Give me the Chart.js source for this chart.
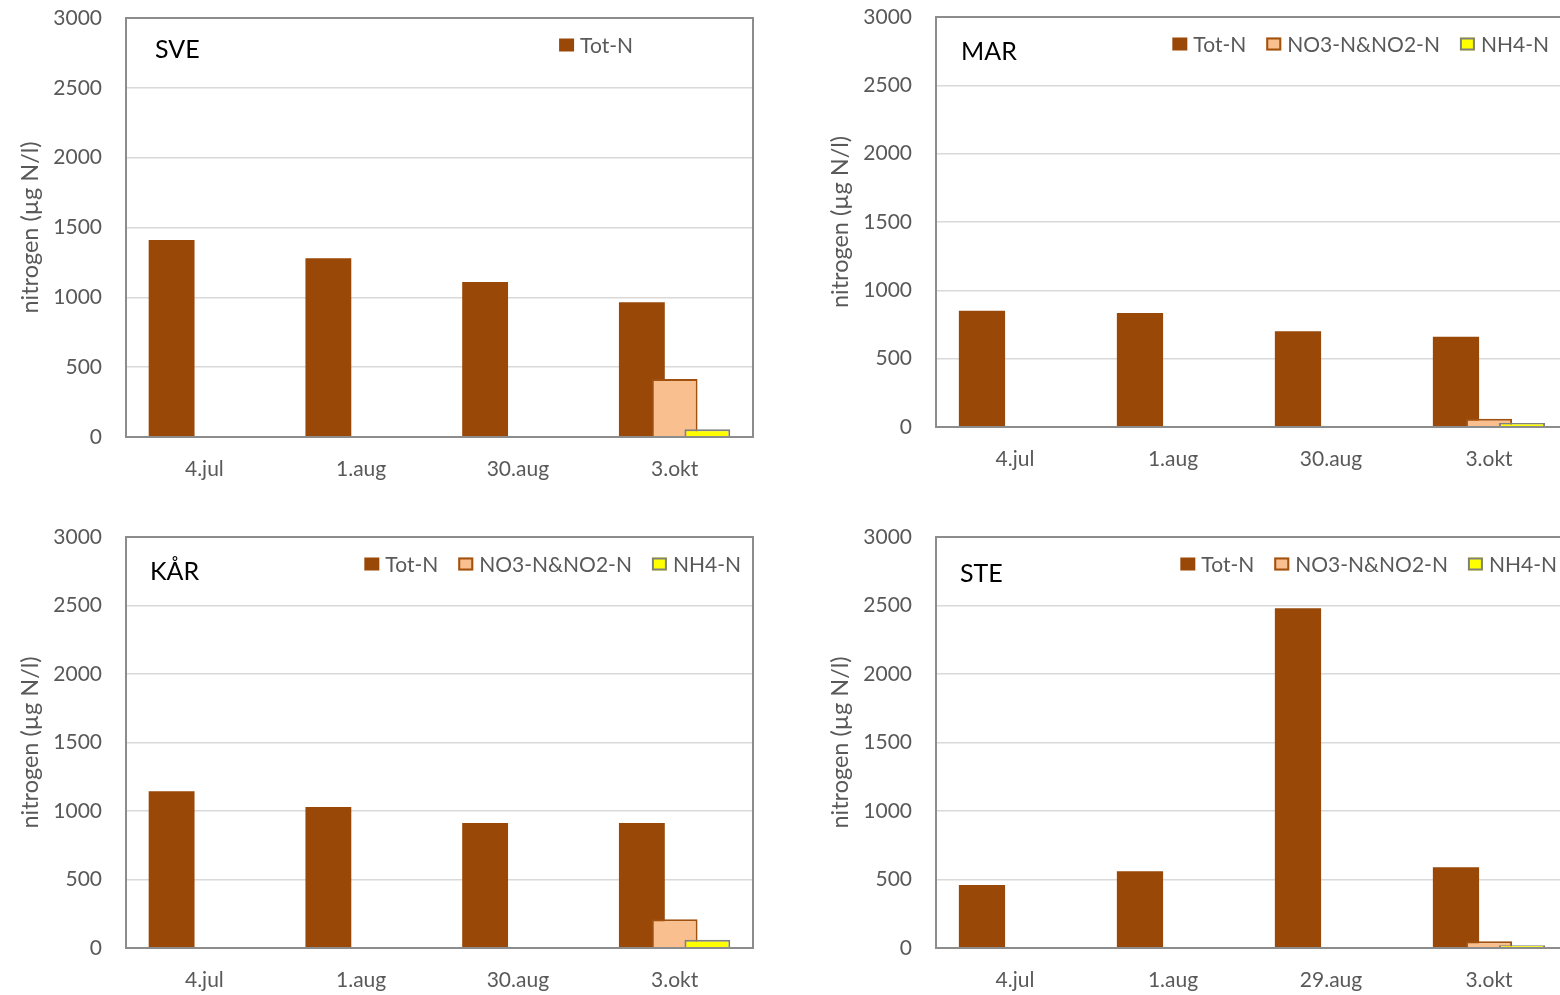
<!DOCTYPE html>
<html>
<head>
<meta charset="utf-8">
<script src="https://cdn.jsdelivr.net/npm/chart.js@4.4.1/dist/chart.umd.min.js"></script>
<style>
  html, body { margin: 0; padding: 0; background: #fff; overflow: hidden; width: 1560px; height: 995px; }
  canvas { position: absolute; }
</style>
</head>
<body>
<canvas id="sve" width="780" height="520" style="left:0;top:-20px"></canvas>
<canvas id="mar" width="780" height="520" style="left:810px;top:-20px"></canvas>
<canvas id="kar" width="780" height="495" style="left:0;top:500px"></canvas>
<canvas id="ste" width="780" height="495" style="left:810px;top:500px"></canvas>
<script>
// data
const categories = ['4.jul', '1.aug', '30.aug', '3.okt'];
const steCategories = ['4.jul', '1.aug', '29.aug', '3.okt'];
const seriesNames = ['Tot-N', 'NO3-N&NO2-N', 'NH4-N'];
const yTicks = [0, 500, 1000, 1500, 2000, 2500, 3000];

const sveTotN = [1410, 1280, 1110, 965];
const sveNO3 = [null, null, null, 415];
const sveNH4 = [null, null, null, 55];

const marTotN = [850, 835, 700, 660];
const marNO3 = [null, null, null, 60];
const marNH4 = [null, null, null, 30];

const karTotN = [1145, 1030, 912, 912];
const karNO3 = [null, null, null, 210];
const karNH4 = [null, null, null, 60];

const steTotN = [460, 560, 2480, 590];
const steNO3 = [null, null, null, 50];
const steNH4 = [null, null, null, 20];

Chart.defaults.font.family = 'Lato';
const grey = '#595959';
const fills = ['#994808', '#f9bf8f', '#ffff00'];
const borders = ['#994808', '#a0500f', '#808080'];
const borderWidths = [0, 2, 2];

// excel draws later series on top, chart.js the other way round -> draw in dataset order + plot frame
const frameAndOrder = {
    id: 'frameAndOrder',
    beforeDatasetsDraw(chart) {
        chart.getSortedVisibleDatasetMetas().forEach(meta => meta.controller.draw());
        const a = chart.chartArea, ctx = chart.ctx;
        ctx.save();
        ctx.strokeStyle = '#8c8c8c';
        ctx.lineWidth = 2;
        ctx.strokeRect(a.left, a.top, a.right - a.left, a.bottom - a.top);
        ctx.restore();
        return false;
    }
};

// station name + legend inside the plot, like the excel charts
const insideLabels = {
    id: 'insideLabels',
    afterDraw(chart, args, opts) {
        const a = chart.chartArea, ctx = chart.ctx;
        ctx.save();
        ctx.font = '25px Lato';
        ctx.fillStyle = '#000';
        ctx.textBaseline = 'alphabetic';
        ctx.fillText(opts.text, a.left + opts.dx, a.top + opts.dy);

        ctx.font = '21px Lato';
        ctx.textBaseline = 'middle';
        const items = chart.data.datasets.slice(0, opts.legendCount);
        const widths = items.map(d => 15 + 6 + ctx.measureText(d.label).width);
        const total = widths.reduce((s, w) => s + w, 0) + 20 * (items.length - 1);
        let x = a.right - opts.legendInset - total;
        const y = a.top + opts.legendY;
        items.forEach((d, i) => {
            ctx.fillStyle = d.backgroundColor;
            ctx.fillRect(x, y - 6.5, 15, 13);
            if (d.borderWidth) {
                ctx.lineWidth = d.borderWidth;
                ctx.strokeStyle = d.borderColor;
                ctx.strokeRect(x + 1, y - 5.5, 13, 11);
            }
            ctx.fillStyle = grey;
            ctx.fillText(d.label, x + 21, y + 1);
            x += widths[i] + 20;
        });
        ctx.restore();
    }
};

function makeChart(id, name, labels, series, geo) {
    const datasets = series.map((values, i) => ({
        label: seriesNames[i],
        data: values,
        backgroundColor: fills[i],
        borderColor: borders[i],
        borderWidth: borderWidths[i]
    }));

    return new Chart(document.getElementById(id), {
        type: 'bar',
        data: { labels: labels, datasets: datasets },
        options: {
            responsive: false,
            animation: false,
            layout: { padding: { top: geo.top, right: geo.right, left: 0, bottom: 0 } },
            datasets: { bar: { categoryPercentage: 0.627, barPercentage: 1.4 } },
            scales: {
                x: {
                    grid: { display: false, drawTicks: false },
                    border: { display: false },
                    ticks: { color: grey, font: { size: 21 }, padding: 20, maxRotation: 0 },
                    afterFit: s => { s.height = geo.axisH; }
                },
                y: {
                    min: yTicks[0],
                    max: yTicks[yTicks.length - 1],
                    ticks: {
                        stepSize: yTicks[1] - yTicks[0],
                        color: grey,
                        font: { size: 21 },
                        padding: 24,
                        callback: v => String(v)
                    },
                    grid: { color: '#d9d9d9', lineWidth: 1.5, drawTicks: false },
                    border: { display: false },
                    title: {
                        display: true,
                        text: 'nitrogen (µg N/l)',
                        color: grey,
                        font: { size: 23.5 },
                        padding: { top: 16, bottom: 0 }
                    },
                    afterFit: s => { s.width = 126; }
                }
            },
            plugins: {
                legend: { display: false },
                tooltip: { enabled: false },
                insideLabels: {
                    text: name, dx: geo.nameX, dy: geo.nameY,
                    legendCount: geo.legendCount, legendInset: geo.legendInset, legendY: 27
                }
            }
        },
        plugins: [frameAndOrder, insideLabels]
    });
}

makeChart('sve', 'SVE', categories, [sveTotN, sveNO3, sveNH4],
    { top: 38, right: 27, axisH: 63, nameX: 29, nameY: 40, legendCount: 1, legendInset: 120 });
makeChart('mar', 'MAR', categories, [marTotN, marNO3, marNH4],
    { top: 37, right: 22, axisH: 73, nameX: 25, nameY: 43, legendCount: 3, legendInset: 19 });
makeChart('kar', 'KÅR', categories, [karTotN, karNO3, karNH4],
    { top: 37, right: 27, axisH: 47, nameX: 24, nameY: 43, legendCount: 3, legendInset: 12 });
makeChart('ste', 'STE', steCategories, [steTotN, steNO3, steNH4],
    { top: 37, right: 22, axisH: 47, nameX: 24, nameY: 45, legendCount: 3, legendInset: 11 });
</script>
</body>
</html>
